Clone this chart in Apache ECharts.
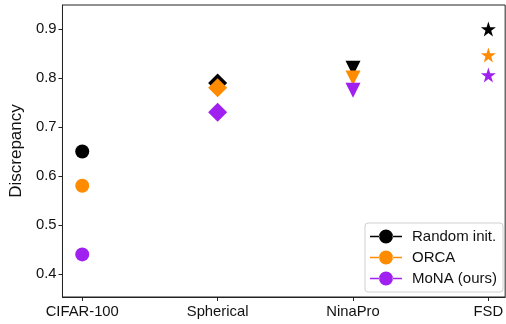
<!DOCTYPE html>
<html>
<head>
<meta charset="utf-8">
<script src="https://cdn.jsdelivr.net/npm/echarts@6/dist/echarts.min.js"></script>
<style>html,body{margin:0;padding:0;background:#fff}#c{width:506px;height:324px}</style>
</head>
<body>
<div id="c"></div>
<script>
const categories = ['CIFAR-100', 'Spherical', 'NinaPro', 'FSD'];
const methods = ['Random init.', 'ORCA', 'MoNA (ours)'];
const randomInit = [0.65, 0.79, 0.82, 0.90];
const orca = [0.58, 0.78, 0.80, 0.847];
const mona = [0.44, 0.73, 0.775, 0.806];
const yTicks = [0.4, 0.5, 0.6, 0.7, 0.8, 0.9];

const colors = ['#000000', '#ff8c00', '#a020f0'];
const star = 'path://M50,0 L61.8,36.2 L100,36.2 L69.1,58.6 L80.9,95.1 L50,72.6 L19.1,95.1 L30.9,58.6 L0,36.2 L38.2,36.2 Z';
const markers = [
  { symbol: 'circle', size: 14, rotate: 0 },
  { symbol: 'diamond', size: 19, rotate: 0 },
  { symbol: 'triangle', size: 15, rotate: 180 },
  { symbol: star, size: 15, rotate: 0 }
];
const legendIcon = 'path://M0,6.3L9.5,6.3L9.5,7.7L0,7.7Z M22.5,6.3L32,6.3L32,7.7L22.5,7.7Z M9,7a7,7 0 1,0 14,0a7,7 0 1,0 -14,0Z';

function build(vals) {
  return vals.map((v, i) => ({
    value: [i, v],
    symbol: markers[i].symbol,
    symbolSize: markers[i].size,
    symbolRotate: markers[i].rotate
  }));
}
const allVals = [randomInit, orca, mona];

const chart = echarts.init(document.getElementById('c'), null, { renderer: 'canvas' });
chart.setOption({
  animation: false,
  textStyle: { fontFamily: 'Liberation Sans, Arial, sans-serif' },
  grid: { left: 58, right: 0, top: 5, bottom: 27, show: true, borderColor: '#222', borderWidth: 1, backgroundColor: 'transparent' },
  xAxis: {
    type: 'value', min: -0.146, max: 3.124,
    axisLine: { show: true, onZero: false, lineStyle: { color: '#222', width: 1 } },
    axisTick: { show: true, inside: false, length: 4, customValues: [0, 1, 2, 3], lineStyle: { color: '#222' } },
    axisLabel: { customValues: [0, 1, 2, 3], formatter: v => categories[Math.round(v)], color: '#111', fontSize: 14.8, margin: 7 },
    splitLine: { show: false }
  },
  yAxis: {
    type: 'value', min: 0.353, max: 0.949,
    name: 'Discrepancy', nameLocation: 'middle', nameGap: 35, nameRotate: 90,
    nameTextStyle: { color: '#111', fontSize: 17 },
    axisLine: { show: true, onZero: false, lineStyle: { color: '#222', width: 1 } },
    axisTick: { show: true, inside: false, length: 4, customValues: yTicks, lineStyle: { color: '#222' } },
    axisLabel: { customValues: yTicks, formatter: v => v.toFixed(1), color: '#111', fontSize: 14.8, margin: 6 },
    splitLine: { show: false }
  },
  legend: {
    data: methods.map((m, i) => ({ name: m, icon: legendIcon, itemStyle: { color: colors[i] } })),
    orient: 'vertical', right: 3, bottom: 32,
    itemWidth: 32, itemHeight: 14, itemGap: 6,
    padding: [6, 6, 6, 5],
    backgroundColor: 'rgba(255,255,255,0.85)',
    borderColor: '#d0d0d0', borderWidth: 1, borderRadius: 3,
    textStyle: { color: '#111', fontSize: 15, padding: [0, 0, 0, 5] }
  },
  series: methods.map((m, i) => ({
    name: m, type: 'scatter',
    itemStyle: { color: colors[i], opacity: 1 },
    data: build(allVals[i]),
    z: 2 + i
  }))
});
</script>
</body>
</html>
